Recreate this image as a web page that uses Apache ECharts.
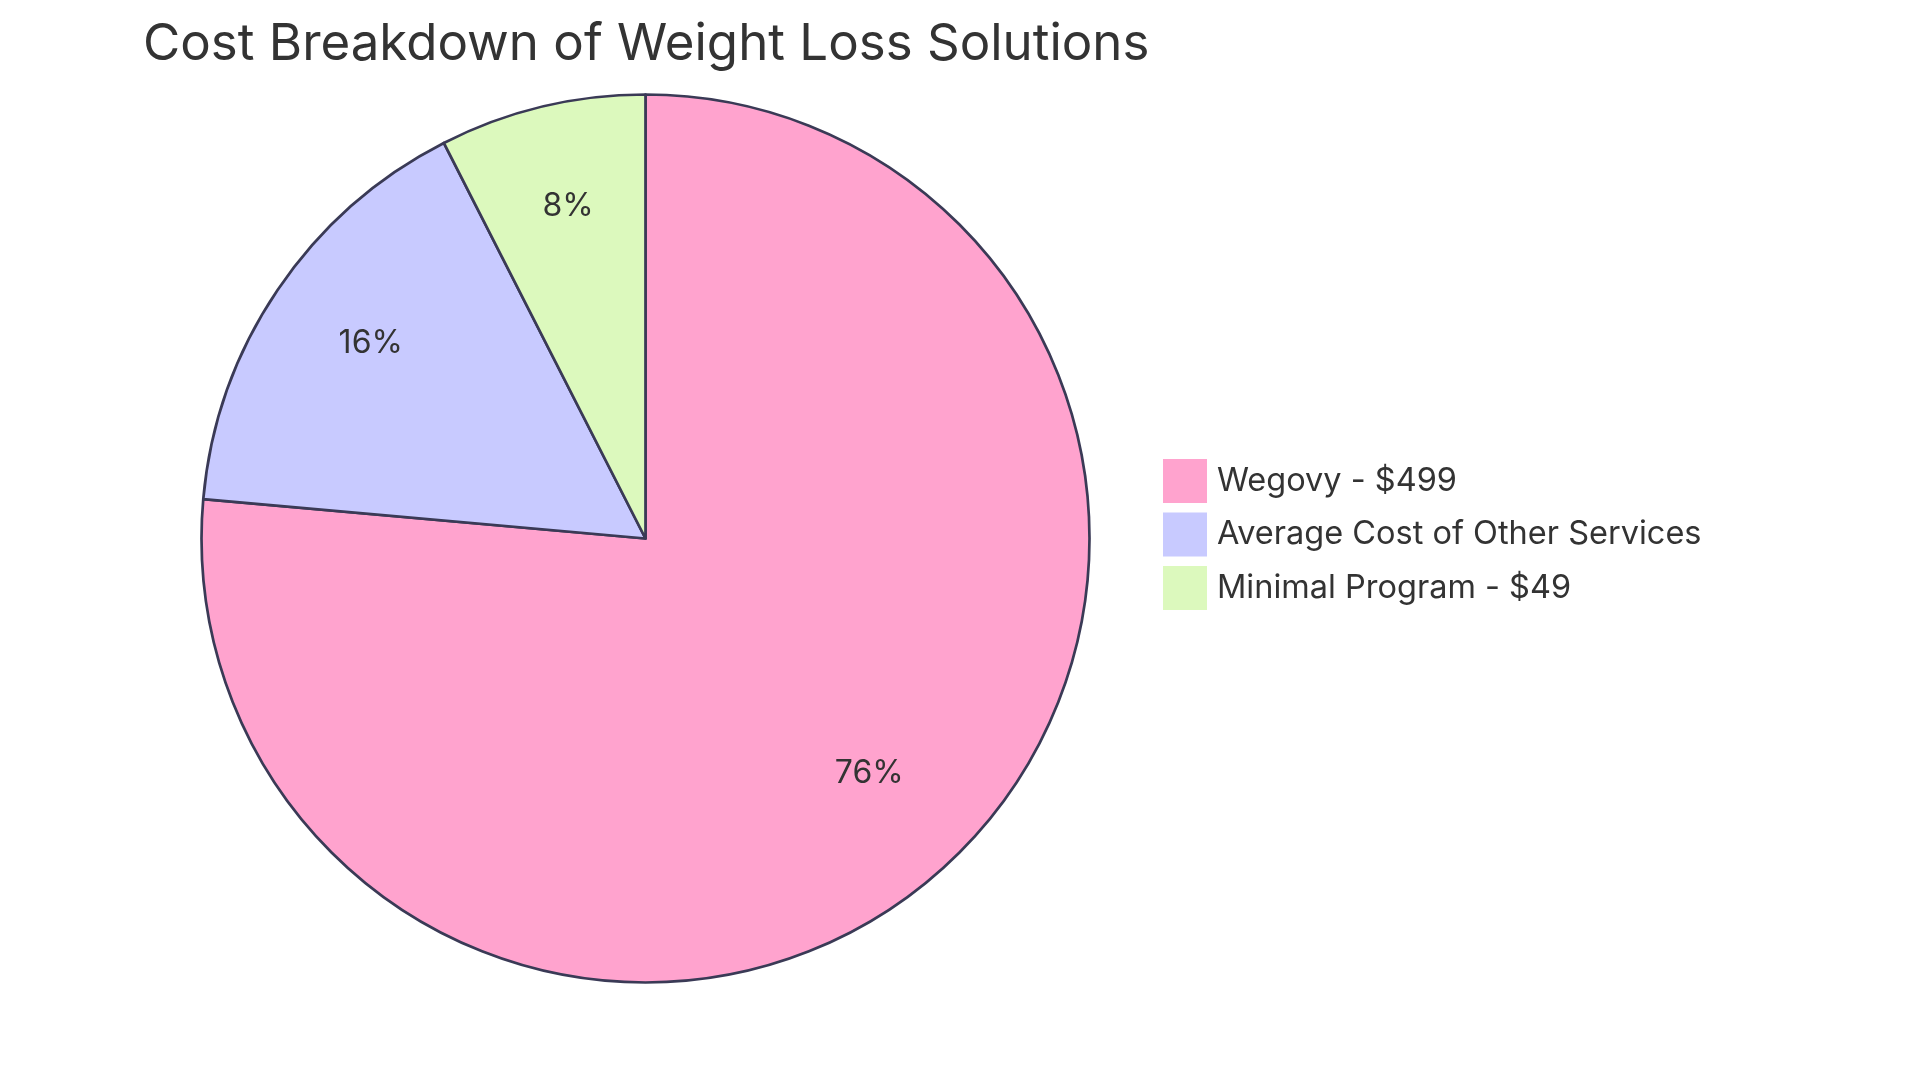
<!DOCTYPE html>
<html>
<head>
<meta charset="utf-8">
<script src="https://cdn.jsdelivr.net/npm/echarts@6/dist/echarts.min.js"></script>
<style>
html,body{margin:0;padding:0;background:#fff;}
#chart{width:1920px;height:1083px;}
</style>
</head>
<body>
<div id="chart"></div>
<script>
const titleText = 'Cost Breakdown of Weight Loss Solutions';
const categories = ['Wegovy - $499', 'Average Cost of Other Services', 'Minimal Program - $49'];
const values = [499, 105, 49];
const colors = ['#FFA3CE', '#C8CAFF', '#DCF9BD'];

const FONT = 'Inter, "Noto Sans", sans-serif';
const R = 444;
const data = categories.map((c, i) => ({ name: c, value: values[i], itemStyle: { color: colors[i] } }));

const chart = echarts.init(document.getElementById('chart'), null, { renderer: 'canvas' });
chart.setOption({
  backgroundColor: '#ffffff',
  animation: false,
  title: {
    text: titleText,
    left: 138,
    top: 14,
    textStyle: { fontFamily: FONT, fontSize: 51, fontWeight: 400, color: '#333333' }
  },
  legend: {
    orient: 'vertical',
    left: 1163,
    top: 459,
    padding: 0,
    itemWidth: 44,
    itemHeight: 44,
    itemGap: 9.5,
    icon: 'rect',
    selectedMode: false,
    data: categories,
    itemStyle: { borderWidth: 0 },
    textStyle: { fontFamily: FONT, fontSize: 32.5, color: '#333333', padding: [0, 0, 0, 5] }
  },
  series: [
    {
      type: 'pie',
      center: [645.5, 538.5],
      radius: [0, R],
      startAngle: 90,
      clockwise: true,
      silent: true,
      label: { show: false },
      labelLine: { show: false },
      itemStyle: { borderColor: '#3A3A56', borderWidth: 2.7 },
      data: data
    },
    {
      type: 'pie',
      center: [645.5, 538.5],
      radius: [R * 0.48, R],
      startAngle: 90,
      clockwise: true,
      silent: true,
      legendHoverLink: false,
      itemStyle: { color: 'rgba(0,0,0,0)', borderWidth: 0 },
      label: {
        show: true,
        position: 'inside',
        offset: [0, -9.3],
        formatter: p => Math.round(p.percent) + '%',
        fontFamily: FONT,
        fontSize: 32,
        color: '#333333'
      },
      labelLine: { show: false },
      data: categories.map((c, i) => ({ name: c, value: values[i], itemStyle: { color: 'rgba(0,0,0,0)' } }))
    }
  ]
});
</script>
</body>
</html>
